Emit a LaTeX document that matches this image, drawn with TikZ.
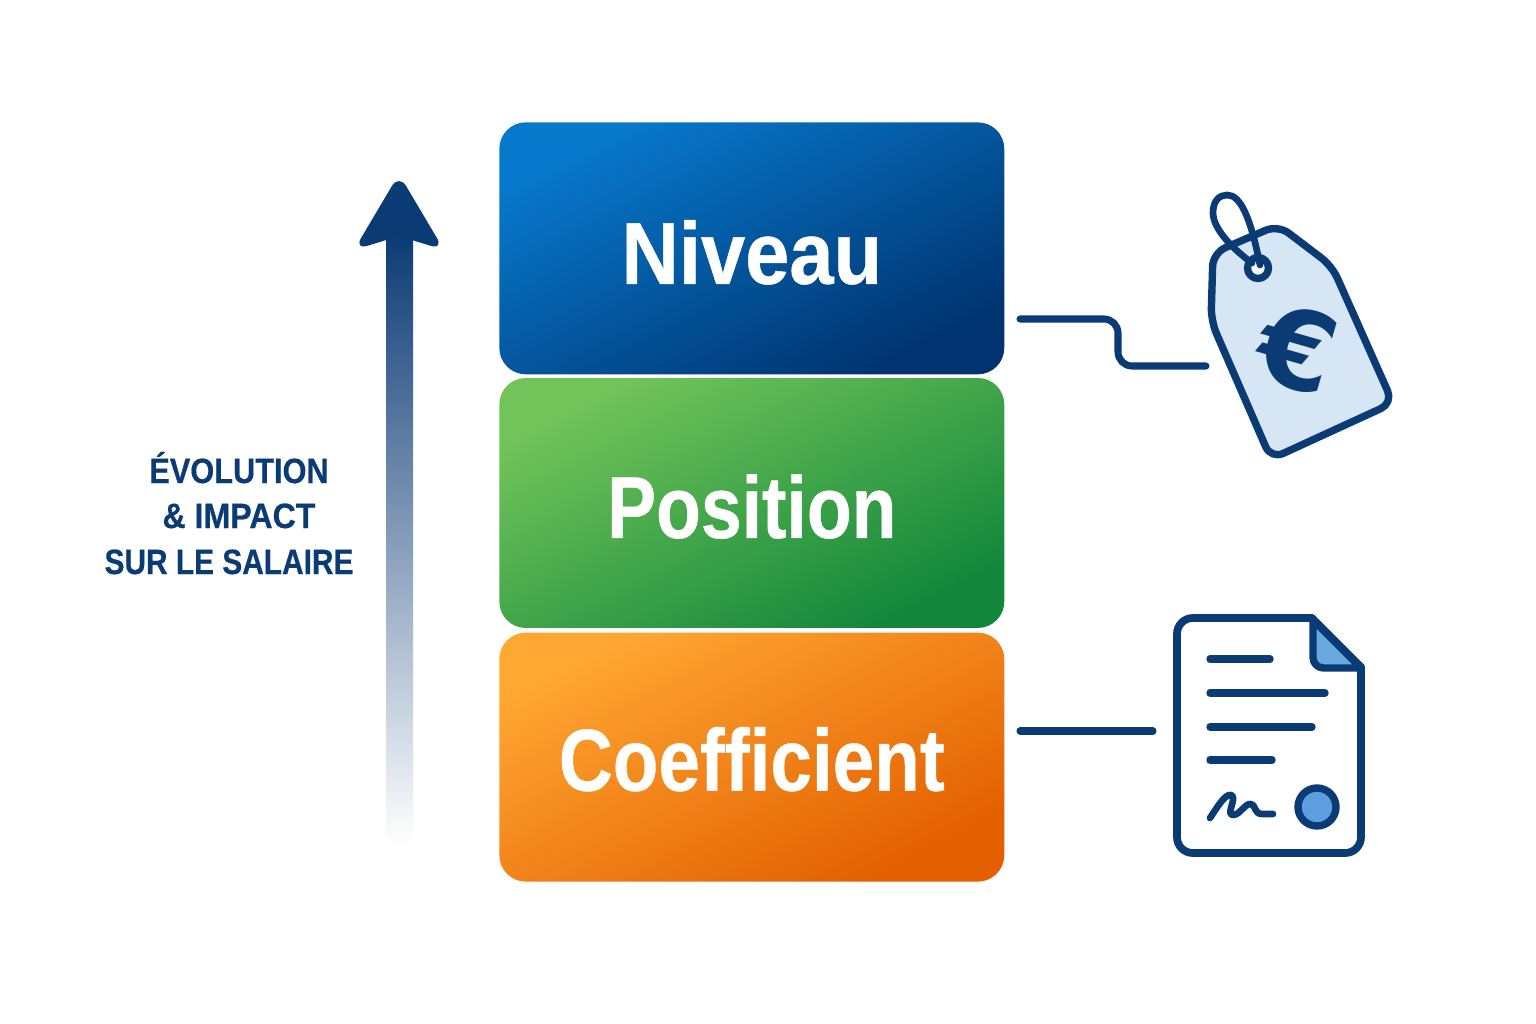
\documentclass[tikz,border=0pt]{standalone}
\usepackage{fontspec}
\setmainfont{Liberation Sans}
\newfontfamily\stufefont[FakeStretch=0.85,BoldFeatures={FakeBold=0.5}]{Liberation Sans}
\newfontfamily\eurofont{DejaVu Sans}
\usetikzlibrary{positioning}
\definecolor{navy}{HTML}{0B3B75}
\definecolor{tagblue}{HTML}{D6E6F5}
\definecolor{sealblue}{HTML}{5B9FE0}
\definecolor{foldblue}{HTML}{6AA8E0}
\definecolor{niveauhaut}{HTML}{0779CC}
\definecolor{niveaubas}{HTML}{00336F}
\definecolor{positionhaut}{HTML}{72C45A}
\definecolor{positionbas}{HTML}{12873B}
\definecolor{coefhaut}{HTML}{FFA733}
\definecolor{coefbas}{HTML}{E35F00}
\tikzset{
    % Define style for the stacked boxes
    stufe/.style={
           rectangle,
           rounded corners=15pt,
           inner sep=0pt,
           minimum width=10.1cm,
           text=white,
           text height=1.42cm,
           text depth=0pt,
           font=\stufefont\bfseries\fontsize{50}{50}\selectfont},
    % Define style for the text on the left
    axe/.style={
           anchor=base,
           text=navy,
           inner sep=0pt,
           font=\stufefont\bfseries\fontsize{20}{20}\selectfont},
    % Define connector style
    lien/.style={
           draw=navy,
           line width=4pt,
           line cap=round,
           rounded corners=8pt},
    % Define icon outline style
    icone/.style={
           draw=navy,
           line width=4.2pt,
           line join=round,
           line cap=round}
}

\begin{document}
\begin{tikzpicture}[x=0.02cm,y=-0.02cm]
  \useasboundingbox (0,0) rectangle (1536,1024);
  % stacked boxes
  \node[stufe, minimum height=5.04cm, top color=niveauhaut, bottom color=niveaubas, shading angle=27, anchor=north west] (niveau) at (499,122) {\addfontfeature{FakeStretch=0.905}Niveau};
  \node[stufe, minimum height=5cm, text height=1.40cm, top color=positionhaut, bottom color=positionbas, shading angle=27, below=0.06cm of niveau] (position) {\addfontfeature{FakeStretch=0.835}Position};
  \node[stufe, minimum height=4.98cm, text height=1.34cm, top color=coefhaut, bottom color=coefbas, shading angle=27, below=0.08cm of position] (coefficient) {Coefficient};
  % rising arrow
  \shade[top color=navy, bottom color=white] (386,235) rectangle (413,845);
  \fill[navy, rounded corners=8pt] (399,174) -- (444,250) -- (399,236) -- (354,250) -- cycle;
  % text on the left
  \node[axe] (evolution) at (239,483) {\addfontfeature{FakeStretch=0.875}ÉVOLUTION};
  \node[axe] (impact) at (239,528) {\addfontfeature{FakeStretch=0.915}\& IMPACT};
  \node[axe] (salaire) at (229,574) {SUR LE SALAIRE};
  % price tag
  \filldraw[icone, fill=tagblue, rounded corners=7.5pt] (1211,321) -- (1213,253) -- (1278,225) -- (1332,266) -- (1393,403) -- (1271,459) -- cycle;
  \filldraw[icone, fill=white] (1258,268) circle (10.5);
  \draw[icone, line width=3.8pt] (1252,263) .. controls (1225,243) and (1213,225) .. (1213,213)
      .. controls (1213,200) and (1220,195) .. (1227,195)
      .. controls (1240,195) and (1250,215) .. (1260,265);
  \node[text=navy, rotate=-16, inner sep=0pt, font=\eurofont\bfseries\fontsize{62}{62}\selectfont] (euro) at (1298,349) {€};
  % document
  \filldraw[icone, line width=4.4pt, fill=white, rounded corners=9pt] (1312,618) -- (1177,618) -- (1177,853) -- (1361,853) -- (1361,667);
  \filldraw[icone, line width=4.4pt, fill=white] (1312,618) -- (1361,667);
  \filldraw[icone, fill=foldblue] (1313,620) [rounded corners=6pt] -- (1313,668) [sharp corners] -- (1361,668) -- cycle;
  \foreach \y/\xend in {659/1270,693/1325,727/1312,760/1272}
    \draw[icone] (1210,\y) -- (\xend,\y);
  \draw[icone, line width=3.8pt] (1210,818) .. controls (1218,806) and (1225,794) .. (1231,795)
      .. controls (1238,797) and (1225,815) .. (1233,815)
      .. controls (1240,815) and (1245,803) .. (1251,804)
      .. controls (1256,805) and (1254,814) .. (1262,814) -- (1273,814);
  \filldraw[icone, fill=sealblue] (1317,807) circle (19);
  % connectors
  \coordinate (niveau out) at (1020,319);
  \coordinate (tag in) at (1206,366);
  \coordinate (coef out) at (1020,731);
  \coordinate (doc in) at (1153,731);
  \draw[lien] (niveau out) -- (1118,319) -- (1118,366) -- (tag in);
  \draw[lien] (coef out) -- (doc in);
\end{tikzpicture}
\end{document}
